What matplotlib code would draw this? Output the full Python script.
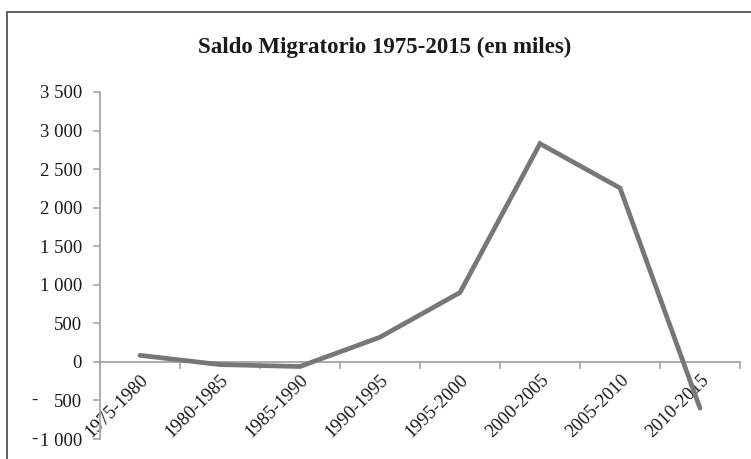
import matplotlib.pyplot as plt
import matplotlib.transforms as mtrans
import numpy as np
from matplotlib.patches import Rectangle
from matplotlib.ticker import FixedLocator, FuncFormatter

# data
periods = ["1975-1980", "1980-1985", "1985-1990", "1990-1995",
           "1995-2000", "2000-2005", "2005-2010", "2010-2015"]
saldo = [85, -35, -60, 320, 900, 2830, 2255, -600]
yticks = [-1000, -500, 0, 500, 1000, 1500, 2000, 2500, 3000, 3500]

plt.rcParams['font.family'] = ['Liberation Serif', 'DejaVu Serif']

txtcol = '#1a1a1a'
axcol = '#a6a6a6'

fig = plt.figure(figsize=(7.51, 4.59), dpi=100)
ax = fig.add_axes([100/751, 1-439/459, 640/751, 347/459])

x = np.arange(len(periods))
ax.plot(x, saldo, color='#77777a', lw=3.4, solid_capstyle='round',
        solid_joinstyle='miter', zorder=3)
ax.set_xlim(-0.5, len(periods)-0.5)
ax.set_ylim(-1000, 3500)

for s in ['top', 'right']:
    ax.spines[s].set_visible(False)
for s in ['left', 'bottom']:
    ax.spines[s].set_color(axcol)
    ax.spines[s].set_linewidth(1.3)
ax.spines['bottom'].set_position(('data', 0))

# y axis, accounting style (minus sign pushed to the left)
ax.set_yticks(yticks)
ax.yaxis.set_major_formatter(FuncFormatter(
    lambda v, p: '{:,.0f}'.format(abs(v)).replace(',', ' ')))
ax.tick_params(axis='y', direction='out', length=5, width=1.2, color=axcol,
               labelsize=13.5, pad=8, labelcolor=txtcol)
tr = mtrans.blended_transform_factory(fig.transFigure, ax.transData)
for v in yticks:
    if v < 0:
        ax.text(34/751, v, '-', transform=tr, fontsize=13.5, ha='center',
                va='center', color=txtcol)

# x axis: labels at category centres, tick marks at boundaries
ax.set_xticks(x)
ax.set_xticklabels(periods, rotation=45, ha='right', rotation_mode='anchor')
ax.tick_params(axis='x', which='major', length=0, pad=7,
               labelsize=13.5, labelcolor=txtcol)
ax.xaxis.set_minor_locator(FixedLocator(np.arange(-0.5, len(periods), 1)))
ax.tick_params(axis='x', which='minor', direction='out', length=5,
               width=1.2, color=axcol)

fig.text(385/751, 1-47/459, 'Saldo Migratorio 1975-2015 (en miles)',
         ha='center', va='center', fontsize=16.5, fontweight='bold', color=txtcol)

# outer chart frame (cut off at right and bottom)
fig.patches.append(Rectangle((7/751, -0.1), 1.0, 1-12/459+0.1,
                             transform=fig.transFigure, fill=False,
                             edgecolor='#555555', lw=1.3))

fig.savefig('out.png', dpi=100)
